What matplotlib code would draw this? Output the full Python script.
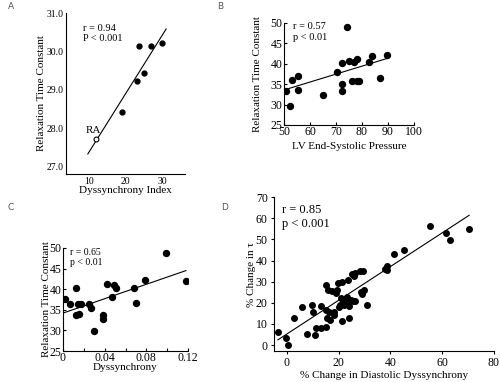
import matplotlib
matplotlib.use("Agg")
import matplotlib.pyplot as plt

plt.rcParams['font.family'] = ['Liberation Serif', 'DejaVu Serif']

# Panel A: dyssynchrony index vs relaxation time constant
a_x = [23.6, 26.8, 29.8, 24.9, 22.9, 19.0]
a_y = [30.15, 30.15, 30.24, 29.45, 29.24, 28.42]
a_ra_x = [11.9]
a_ra_y = [27.72]
a_fit_x = [9.7, 30.9]
a_fit_y = [27.32, 30.6]

# Panel B: LV end-systolic pressure vs relaxation time constant
b_x = [50.9, 52.2, 53.2, 55.4, 55.5, 65.1, 70.4, 72.3, 72.2, 72.3, 74.4,
       74.9, 76.0, 77.1, 78.1, 78.1, 79.0, 82.8, 84.0, 87.1, 89.7]
b_y = [33.35, 29.7, 36.1, 37.1, 33.6, 32.4, 37.85, 40.1, 35.1, 33.3, 49.0,
       40.6, 35.7, 40.4, 41.1, 35.7, 35.7, 40.3, 42.0, 36.5, 42.1]
b_fit_x = [50.2, 89.7]
b_fit_y = [33.6, 41.3]

# Panel C: dyssynchrony vs relaxation time constant
c_x = [0.0023, 0.0071, 0.0129, 0.0123, 0.0142, 0.0168, 0.0158, 0.0248,
       0.0271, 0.0297, 0.0381, 0.0381, 0.0419, 0.0468, 0.049, 0.0506,
       0.0684, 0.070, 0.0787, 0.0987, 0.118]
c_y = [37.6, 36.4, 40.4, 33.8, 36.3, 36.4, 33.9, 36.3, 35.4, 29.8, 33.8,
       32.8, 41.3, 38.0, 41.0, 40.4, 40.4, 36.6, 42.2, 48.8, 42.1]
c_fit_x = [0.0, 0.118]
c_fit_y = [34.2, 44.5]

# Panel D: % change in diastolic dyssynchrony vs % change in tau
d_x = [-3.4, -0.3, 0.6, 2.7, 5.8, 7.9, 9.8, 10.1, 11.0, 11.3, 13.3, 13.3,
       15.1, 15.1, 15.1, 15.5, 15.9, 16.2, 16.5, 17.3, 18.2, 18.2, 18.8,
       19.3, 19.8, 20.0, 20.6, 21.1, 21.1, 21.0, 21.6, 22.2, 23.1, 23.2,
       23.6, 24.0, 24.0, 24.6, 25.0, 25.5, 25.9, 26.3, 26.3, 28.2, 28.6,
       28.9, 29.5, 29.9, 31.1, 37.8, 38.8, 38.8, 41.2, 45.1, 55.2, 61.3,
       63.1, 70.4]
d_y = [6.2, 3.2, 0.2, 12.9, 17.8, 5.2, 18.9, 15.9, 4.7, 8.0, 18.3, 8.0,
       28.4, 16.4, 8.8, 12.8, 26.2, 15.9, 12.0, 25.4, 14.4, 15.5, 24.8,
       26.2, 29.3, 18.0, 18.9, 30.0, 11.2, 22.2, 20.7, 19.2, 23.0, 19.9,
       30.6, 18.3, 12.9, 21.5, 33.6, 20.7, 32.5, 34.1, 21.0, 34.9, 25.2,
       24.1, 34.9, 25.9, 19.1, 35.8, 37.2, 35.5, 43.1, 45.1, 56.2, 53.0,
       49.8, 55.0]
d_fit_x = [-3.5, 70.4]
d_fit_y = [2.5, 61.4]

fig = plt.figure(figsize=(5, 3.82), dpi=100)

axA = fig.add_axes([0.132, 0.545, 0.238, 0.421])
axB = fig.add_axes([0.568, 0.673, 0.260, 0.267])
axC = fig.add_axes([0.126, 0.081, 0.250, 0.270])
axD = fig.add_axes([0.548, 0.081, 0.440, 0.403])

for ax in (axA, axB, axC, axD):
    ax.spines['top'].set_visible(False)
    ax.spines['right'].set_visible(False)
    ax.spines['left'].set_linewidth(0.8)
    ax.spines['bottom'].set_linewidth(0.8)

# A
axA.plot(a_fit_x, a_fit_y, color='black', lw=0.8)
axA.plot(a_x, a_y, 'o', color='black', ms=3.5)
axA.plot(a_ra_x, a_ra_y, 'o', mfc='white', mec='black', ms=3.5, mew=0.8)
axA.text(a_ra_x[0] - 0.7, a_ra_y[0] + 0.1, 'RA', ha='center', va='bottom', fontsize=8)
axA.set_xlim(3.8, 36)
axA.set_ylim(26.8, 31.02)
axA.set_xticks([10, 20, 30])
axA.set_yticks([27, 28, 29, 30, 31])
axA.set_yticklabels(['27.0', '28.0', '29.0', '30.0', '31.0'])
axA.tick_params(length=0, labelsize=7, pad=2)
axA.set_xlabel('Dyssynchrony Index', fontsize=8, labelpad=0)
axA.set_ylabel('Relaxation Time Constant', fontsize=8, labelpad=0)
axA.text(0.143, 0.873, 'r = 0.94\nP < 0.001', transform=axA.transAxes,
         fontsize=7.5, va='center', linespacing=1.2)

# B
axB.plot(b_fit_x, b_fit_y, color='black', lw=0.8)
axB.plot(b_x, b_y, 'o', color='black', ms=4.3)
axB.set_xlim(50, 100)
axB.set_ylim(25, 50)
axB.set_xticks([50, 60, 70, 80, 90, 100])
axB.set_yticks([25, 30, 35, 40, 45, 50])
axB.tick_params(direction='in', length=2.5, width=0.8, labelsize=8.5, pad=1)
axB.set_xlabel('LV End-Systolic Pressure', fontsize=8, labelpad=3)
axB.set_ylabel('Relaxation Time Constant', fontsize=8, labelpad=6)
axB.text(0.07, 0.91, 'r = 0.57\np < 0.01', transform=axB.transAxes,
         fontsize=7.5, va='center', linespacing=1.2)

# C
axC.plot(c_fit_x, c_fit_y, color='black', lw=0.8)
axC.plot(c_x, c_y, 'o', color='black', ms=4.3)
axC.set_xlim(0, 0.12)
axC.set_ylim(25, 50)
axC.set_xticks([0, 0.02, 0.04, 0.06, 0.08, 0.10, 0.12])
axC.set_xticklabels(['0', '', '0.04', '', '0.08', '', '0.12'])
axC.set_yticks([25, 30, 35, 40, 45, 50])
axC.tick_params(direction='in', length=2.5, width=0.8, labelsize=8.5, pad=1)
axC.set_xlabel('Dyssynchrony', fontsize=8, labelpad=-1)
axC.set_ylabel('Relaxation Time Constant', fontsize=8, labelpad=-1)
axC.text(0.056, 0.91, 'r = 0.65\np < 0.01', transform=axC.transAxes,
         fontsize=7, va='center', linespacing=1.2)

# D
axD.plot(d_fit_x, d_fit_y, color='black', lw=0.8)
axD.plot(d_x, d_y, 'o', color='black', ms=4.0)
axD.set_xlim(-5, 80)
axD.set_ylim(-2.8, 70)
axD.set_xticks([0, 20, 40, 60, 80])
axD.set_yticks([0, 10, 20, 30, 40, 50, 60, 70])
axD.tick_params(direction='out', length=2.5, width=0.8, labelsize=8.5, pad=2)
axD.set_xlabel('% Change in Diastolic Dyssynchrony', fontsize=8, labelpad=1)
axD.set_ylabel('% Change in τ', fontsize=8, labelpad=0)
axD.text(0.036, 0.87, 'r = 0.85\np < 0.001', transform=axD.transAxes,
         fontsize=9, va='center', linespacing=1.2)

# panel letters
for lbl, x, y in [('A', 0.016, 0.984), ('B', 0.434, 0.984),
                  ('C', 0.016, 0.456), ('D', 0.442, 0.456)]:
    fig.text(x, y, lbl, fontsize=6.5, color='#555555', ha='left', va='center',
             family=['DejaVu Sans'])

fig.savefig('out.png', dpi=100)
